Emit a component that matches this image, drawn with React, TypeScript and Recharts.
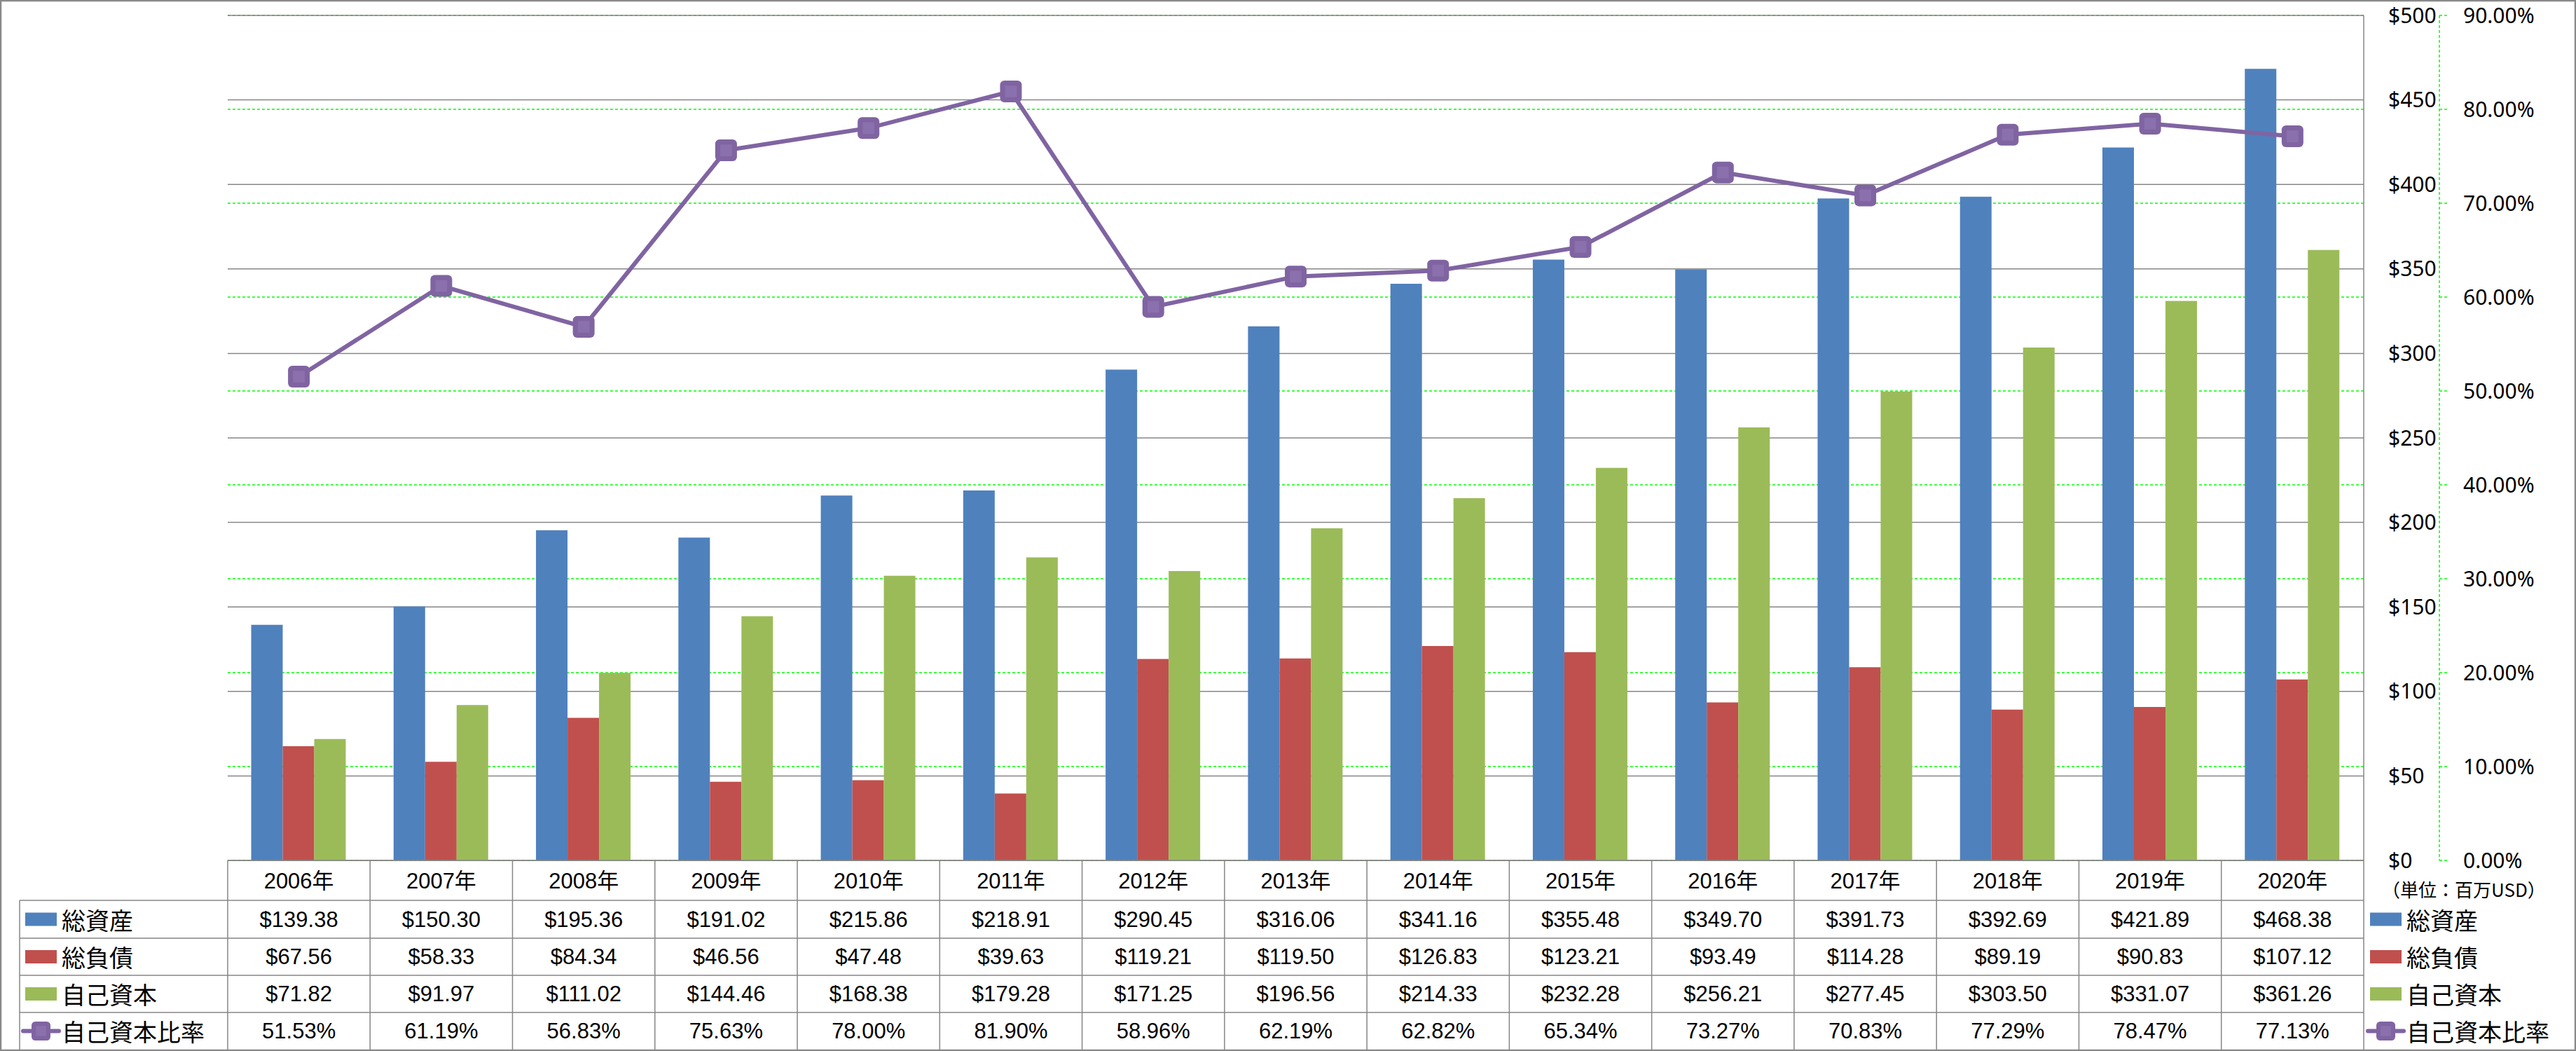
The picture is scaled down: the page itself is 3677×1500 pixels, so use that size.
import React from 'react';
import { ComposedChart, Bar, Line, XAxis, YAxis, CartesianGrid, Customized } from 'recharts';

// ---- data ----
const years = ['2006年', '2007年', '2008年', '2009年', '2010年', '2011年', '2012年', '2013年', '2014年', '2015年', '2016年', '2017年', '2018年', '2019年', '2020年'];
const totalAssets = [139.38, 150.30, 195.36, 191.02, 215.86, 218.91, 290.45, 316.06, 341.16, 355.48, 349.70, 391.73, 392.69, 421.89, 468.38];
const totalLiabilities = [67.56, 58.33, 84.34, 46.56, 47.48, 39.63, 119.21, 119.50, 126.83, 123.21, 93.49, 114.28, 89.19, 90.83, 107.12];
const equity = [71.82, 91.97, 111.02, 144.46, 168.38, 179.28, 171.25, 196.56, 214.33, 232.28, 256.21, 277.45, 303.50, 331.07, 361.26];
const equityRatio = [51.53, 61.19, 56.83, 75.63, 78.00, 81.90, 58.96, 62.19, 62.82, 65.34, 73.27, 70.83, 77.29, 78.47, 77.13];
const seriesNames = ['総資産', '総負債', '自己資本', '自己資本比率'];
const usdTicks = [0, 50, 100, 150, 200, 250, 300, 350, 400, 450, 500];
const pctTicks = [0, 10, 20, 30, 40, 50, 60, 70, 80, 90];
const unitLabel = '（単位：百万USD）';

const data = years.map((y, i) => ({
  year: y,
  assets: totalAssets[i],
  liabilities: totalLiabilities[i],
  equity: equity[i],
  ratio: equityRatio[i],
}));

// ---- styles / layout ----
const W = 3677;
const H = 1500;
const PLOT_L = 325;
const PLOT_R = 3374;
const PLOT_T = 22;
const AXIS_Y = 1228;
const ROW_LINES = [1285, 1339, 1392, 1445];
const BOTTOM = 1498;
const TABLE_L = 28;
const ROW_CENTERS = [1257, 1312, 1365.5, 1418.5, 1471.5];
const BW = (PLOT_R - PLOT_L) / years.length;

const USD = 'a_usd';
const PCT = 'b_pct';

const C_BLUE = '#4F81BD';
const C_RED = '#C0504D';
const C_GREEN = '#9BBB59';
const C_PURPLE = '#8064A2';
const C_GRID = '#868686';
const C_GGRID = '#00FF00';
const colors = [C_BLUE, C_RED, C_GREEN, C_PURPLE];

const NUM_FONT = "'Liberation Sans', 'Noto Sans CJK JP', sans-serif";
const CJK_FONT = "'Noto Sans CJK JP', sans-serif";
const AXIS_FONT = "'Noto Sans', 'DejaVu Sans', sans-serif";

const fmtUsd = (v: number) => `$${v.toFixed(2)}`;
const fmtPct = (v: number) => `${v.toFixed(2)}%`;

const SquareMarker = ({ cx, cy, size }: { cx: number; cy: number; size: number }) => (
  <g>
    <rect x={cx - size / 2} y={cy - size / 2} width={size} height={size} rx={size * 0.2} fill={C_PURPLE} />
    <rect x={cx - size * 0.27} y={cy - size * 0.27} width={size * 0.54} height={size * 0.54} fill="#8A70AD" />
  </g>
);

const TableTick = (props: any) => {
  const { x, payload } = props;
  const i = payload.index ?? props.index;
  const half = BW / 2;
  const cells = [years[i], fmtUsd(totalAssets[i]), fmtUsd(totalLiabilities[i]), fmtUsd(equity[i]), fmtPct(equityRatio[i])];
  return (
    <g>
      <line x1={x - half} x2={x - half} y1={AXIS_Y} y2={BOTTOM} stroke={C_GRID} strokeWidth={1.5} />
      {cells.map((c, r) => (
        <text
          key={r}
          x={x}
          y={ROW_CENTERS[r]}
          textAnchor="middle"
          dominantBaseline="central"
          fontFamily={NUM_FONT}
          fontSize={31}
          fill="#000"
        >
          {c}
        </text>
      ))}
    </g>
  );
};

const LegendKey = ({ idx, x, cy }: { idx: number; x: number; cy: number }) => {
  if (idx < 3) {
    return <rect x={x} y={cy - 9.5} width={45} height={19} fill={colors[idx]} />;
  }
  return (
    <g>
      <line x1={x - 3} x2={x + 48} y1={cy} y2={cy} stroke={C_PURPLE} strokeWidth={6} strokeLinecap="round" />
      <SquareMarker cx={x + 22.5} cy={cy} size={27} />
    </g>
  );
};

const Decorations = () => (
  <g>
    {/* outer border */}
    <rect x={1} y={1} width={W - 2} height={H - 2} fill="none" stroke="#898989" strokeWidth={2.5} />
    {/* table horizontal lines */}
    {ROW_LINES.map((y) => (
      <line key={y} x1={TABLE_L} x2={PLOT_R} y1={y} y2={y} stroke={C_GRID} strokeWidth={1.5} />
    ))}
    <line x1={TABLE_L} x2={TABLE_L} y1={ROW_LINES[0]} y2={BOTTOM} stroke={C_GRID} strokeWidth={1.5} />
    <line x1={PLOT_R} x2={PLOT_R} y1={AXIS_Y} y2={BOTTOM} stroke={C_GRID} strokeWidth={1.5} />
    {/* table row labels */}
    {seriesNames.map((n, k) => (
      <g key={'l' + k}>
        <LegendKey idx={k} x={36} cy={ROW_CENTERS[k + 1]} />
        <text x={88} y={ROW_CENTERS[k + 1]} dominantBaseline="central" fontFamily={CJK_FONT} fontSize={34} fill="#000">
          {n}
        </text>
      </g>
    ))}
    {/* right legend */}
    <text x={3400} y={1268} dominantBaseline="central" fontFamily={CJK_FONT} fontSize={26} fill="#000">
      {unitLabel}
    </text>
    {seriesNames.map((n, k) => (
      <g key={'r' + k}>
        <LegendKey idx={k} x={3383} cy={ROW_CENTERS[k + 1]} />
        <text x={3435} y={ROW_CENTERS[k + 1]} dominantBaseline="central" fontFamily={CJK_FONT} fontSize={34} fill="#000">
          {n}
        </text>
      </g>
    ))}
  </g>
);

export default function App() {
  return (
    <div style={{ position: 'absolute', left: 0, top: 0, width: W, height: H, background: '#fff' }}>
      <ComposedChart
        width={W}
        height={H}
        data={data}
        margin={{ top: PLOT_T, left: PLOT_L, right: 0, bottom: 0 }}
        barCategoryGap="16.5%"
        barGap={0}
      >
        <CartesianGrid yAxisId={PCT} vertical={false} stroke={C_GGRID} strokeWidth={1.5} strokeDasharray="4 3" />
        <CartesianGrid yAxisId={USD} vertical={false} stroke={C_GRID} strokeWidth={1.5} />
        <XAxis
          dataKey="year"
          height={H - AXIS_Y}
          interval={0}
          tickLine={false}
          axisLine={{ stroke: C_GRID, strokeWidth: 1.5 }}
          tick={<TableTick />}
        />
        <YAxis
          yAxisId={USD}
          orientation="right"
          domain={[0, 500]}
          ticks={usdTicks}
          width={108}
          axisLine={{ stroke: C_GRID, strokeWidth: 1.5 }}
          tickLine={false}
          tickSize={0}
          tickMargin={35}
          tickFormatter={(v: number) => `$${v}`}
          tick={{ fill: '#000', fontSize: 30, fontFamily: AXIS_FONT, textAnchor: 'start' }}
        />
        <YAxis
          yAxisId={PCT}
          orientation="right"
          domain={[0, 90]}
          ticks={pctTicks}
          width={195}
          axisLine={{ stroke: C_GGRID, strokeWidth: 1.5, strokeDasharray: '4 3' }}
          tickLine={{ stroke: C_GGRID, strokeWidth: 1.5, strokeDasharray: '4 3' }}
          tickSize={11}
          tickMargin={23}
          tickFormatter={(v: number) => fmtPct(v)}
          tick={{ fill: '#000', fontSize: 30, fontFamily: AXIS_FONT, textAnchor: 'start' }}
        />
        <Bar yAxisId={USD} dataKey="assets" fill={C_BLUE} isAnimationActive={false} />
        <Bar yAxisId={USD} dataKey="liabilities" fill={C_RED} isAnimationActive={false} />
        <Bar yAxisId={USD} dataKey="equity" fill={C_GREEN} isAnimationActive={false} />
        <Line
          yAxisId={PCT}
          dataKey="ratio"
          stroke={C_PURPLE}
          strokeWidth={6}
          isAnimationActive={false}
          dot={(p: any) => <SquareMarker key={'d' + p.index} cx={p.cx} cy={p.cy} size={31} />}
          activeDot={false}
        />
        <Customized component={Decorations} />
      </ComposedChart>
    </div>
  );
}
